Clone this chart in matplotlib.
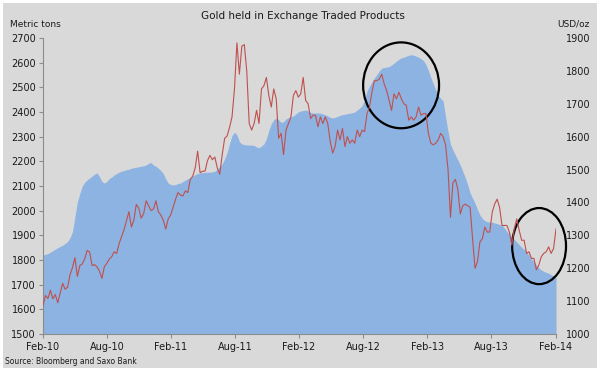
import numpy as np
import pandas as pd
import matplotlib.pyplot as plt
import matplotlib.dates as mdates
from matplotlib.patches import Ellipse

# weekly observations, Friday 12 Feb 2010 .. Friday 14 Feb 2014
dates = pd.date_range('2010-02-12', periods=210, freq='7D')

# gold held in ETPs, metric tons (left axis)
etp_tons = [
    1820, 1823, 1826, 1832, 1838, 1844, 1850, 1855, 1860, 1867,
    1875, 1890, 1915, 1975, 2035, 2070, 2100, 2115, 2125, 2132,
    2140, 2148, 2153, 2138, 2118, 2112, 2118, 2130, 2136, 2145,
    2150, 2156, 2160, 2163, 2166, 2168, 2172, 2174, 2176, 2178,
    2180, 2182, 2185, 2192, 2195, 2185, 2180, 2172, 2162, 2150,
    2128, 2112, 2106, 2104, 2106, 2110, 2112, 2118, 2124, 2130,
    2133, 2140, 2146, 2150, 2153, 2154, 2155, 2156, 2156, 2157,
    2160, 2168, 2178, 2190, 2210, 2236, 2272, 2305, 2318, 2307,
    2280, 2270, 2268, 2266, 2266, 2266, 2264, 2258, 2255, 2262,
    2270, 2292, 2325, 2352, 2368, 2376, 2368, 2358, 2360, 2372,
    2377, 2380, 2384, 2392, 2400, 2404, 2406, 2408, 2404, 2398,
    2396, 2396, 2396, 2395, 2392, 2388, 2384, 2378, 2376, 2378,
    2382, 2386, 2389, 2391, 2393, 2395, 2397, 2400, 2408, 2416,
    2425, 2450, 2485, 2505, 2522, 2538, 2552, 2566, 2578, 2580,
    2582, 2584, 2590, 2598, 2606, 2614, 2619, 2622, 2626, 2630,
    2632, 2630, 2626, 2622, 2616, 2608, 2592, 2568, 2540, 2515,
    2490, 2468, 2455, 2445, 2380, 2320, 2270, 2245, 2225, 2205,
    2185, 2160, 2135, 2105, 2072, 2050, 2030, 2005, 1982, 1968,
    1960, 1955, 1954, 1953, 1950, 1947, 1944, 1941, 1930, 1915,
    1905, 1894, 1883, 1873, 1862, 1852, 1843, 1833, 1820, 1805,
    1792, 1780, 1768, 1760, 1754, 1750, 1746, 1740, 1735, 1730,
]

# gold price, USD/oz (right axis)
gold_2010 = [1087, 1117, 1108,
             1133, 1107, 1120, 1095,
             1125, 1154, 1136, 1142, 1180,
             1202, 1232, 1175, 1208,
             1213, 1229, 1254, 1249,
             1208, 1211, 1204, 1191, 1169,
             1205, 1215, 1228, 1235,
             1250, 1245, 1275, 1296,
             1317, 1345, 1372, 1325, 1346,
             1394, 1383, 1352, 1366,
             1405, 1390, 1375, 1380, 1405]
gold_2011 = [1371, 1362, 1346, 1319,
             1350, 1362, 1385, 1410,
             1430, 1422, 1420, 1435,
             1430, 1470, 1480, 1505, 1556,
             1490, 1495, 1495, 1527,
             1543, 1530, 1538, 1505,
             1486, 1545, 1595, 1602, 1628,
             1660, 1745, 1885, 1790,
             1875, 1880, 1800, 1640, 1620,
             1640, 1680, 1640, 1745,
             1755, 1780, 1725, 1690,
             1745, 1715, 1595, 1610, 1545]
gold_2012 = [1620, 1640, 1660, 1725,
             1740, 1720, 1730, 1780,
             1710, 1700, 1655, 1665, 1665,
             1630, 1660, 1640, 1660,
             1640, 1585, 1550, 1570,
             1620, 1590, 1625, 1570, 1600,
             1580, 1590, 1580, 1620,
             1600, 1620, 1615, 1670, 1690,
             1735, 1770, 1770, 1775,
             1790, 1760, 1740, 1710,
             1680, 1730, 1715, 1735, 1715,
             1700, 1695, 1650, 1660]
gold_2013 = [1650, 1660, 1690, 1665,
             1670, 1670, 1610, 1580,
             1575, 1580, 1590, 1610, 1600,
             1575, 1500, 1355, 1460,
             1470, 1440, 1365, 1390, 1395,
             1390, 1385, 1290, 1200,
             1220, 1280, 1290, 1325,
             1310, 1310, 1370, 1395, 1410,
             1385, 1330, 1330, 1330,
             1310, 1270, 1320, 1350,
             1315, 1285, 1285, 1245, 1250,
             1230, 1230, 1195, 1210]
gold_2014 = [1235, 1245, 1250, 1265, 1245, 1260, 1320]
gold_price = gold_2010 + gold_2011 + gold_2012 + gold_2013 + gold_2014

tick_dates = pd.to_datetime(['2010-02-12', '2010-08-13', '2011-02-12', '2011-08-13',
                             '2012-02-12', '2012-08-13', '2013-02-12', '2013-08-13',
                             '2014-02-14'])

bg = '#d9d9d9'
fig = plt.figure(figsize=(6, 3.71), dpi=100)
fig.patch.set_facecolor(bg)
fig.patch.set_edgecolor('white')
fig.patch.set_linewidth(3)

ax = fig.add_axes([0.0717, 0.0997, 0.855, 0.798])
ax.set_facecolor(bg)
ax.fill_between(dates, 1500, etp_tons, color='#8db3e2', linewidth=0)
ax.set_ylim(1500, 2700)
ax.set_yticks(np.arange(1500, 2701, 100))
ax.set_xlim(tick_dates[0], tick_dates[-1])
ax.set_xticks(tick_dates)
ax.xaxis.set_major_formatter(mdates.DateFormatter('%b-%y'))
for s in ['top', 'right']:
    ax.spines[s].set_visible(False)
for s in ['left', 'bottom']:
    ax.spines[s].set_color('#8c8c8c')
    ax.spines[s].set_linewidth(0.8)
ax.tick_params(axis='y', length=3, width=0.8, color='#8c8c8c', pad=2,
               labelsize=7, labelcolor='#1a1a1a')
ax.tick_params(axis='x', length=3, width=0.8, color='#8c8c8c', pad=3,
               labelsize=7, labelcolor='#1a1a1a')

ax2 = ax.twinx()
ax2.plot(dates, gold_price, color='#c0504d', linewidth=0.8)
ax2.set_ylim(1000, 1900)
ax2.set_yticks(np.arange(1000, 1901, 100))
for s in ['top', 'right', 'left', 'bottom']:
    ax2.spines[s].set_visible(False)
ax2.tick_params(axis='y', length=0, pad=7, labelsize=7, labelcolor='#1a1a1a')

# highlight circles
ax2.add_patch(Ellipse((0.698, 0.84), 0.148, 0.29, transform=ax2.transAxes,
                      fill=False, edgecolor='black', linewidth=1.6, clip_on=False))
ax2.add_patch(Ellipse((0.967, 0.297), 0.105, 0.257, transform=ax2.transAxes,
                      fill=False, edgecolor='black', linewidth=1.6, clip_on=False))

fig.text(0.505, 0.958, 'Gold held in Exchange Traded Products', ha='center',
         va='center', fontsize=7.5, color='#1a1a1a')
fig.text(0.017, 0.935, 'Metric tons', ha='left', va='center', fontsize=6.5,
         color='#1a1a1a')
fig.text(0.982, 0.935, 'USD/oz', ha='right', va='center', fontsize=6.5,
         color='#1a1a1a')
fig.text(0.008, 0.025, 'Source: Bloomberg and Saxo Bank', ha='left', va='center',
         fontsize=5.5, color='#1a1a1a')

fig.savefig('out.png', dpi=100, facecolor=fig.get_facecolor())
